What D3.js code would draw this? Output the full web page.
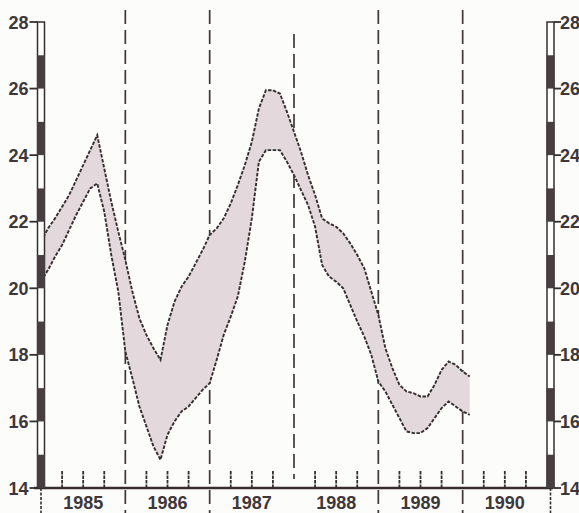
<!DOCTYPE html>
<html><head><meta charset="utf-8">
<script src="https://cdn.jsdelivr.net/npm/d3@7"></script>
<style>
html,body{margin:0;padding:0;background:#fcfcfb;}
svg{display:block;}
text{font-family:"Liberation Sans Narrow","Liberation Sans",sans-serif;font-weight:bold;fill:#3e3739;}
</style></head>
<body>
<script>
// ---- data (monthly, Jan 1985 .. Feb 1990) ----
const startYear = 1985;
const years = ["1985","1986","1987","1988","1989","1990"];
const yTicks = [14,16,18,20,22,24,26,28];
const upper = [21.4,21.8,22.1,22.45,22.8,23.25,23.7,24.15,24.6,23.6,22.6,21.7,
               20.85,19.9,19.1,18.6,18.2,17.85,18.9,19.6,20.05,20.35,20.75,21.15,
               21.6,21.8,22.1,22.55,23.1,23.7,24.4,25.4,25.95,25.95,25.85,25.3,
               24.7,24.1,23.4,22.8,22.1,21.95,21.85,21.65,21.35,21.0,20.6,19.9,
               19.2,18.2,17.6,17.1,16.9,16.85,16.75,16.75,17.1,17.55,17.8,17.7,
               17.5,17.35];
const lower = [20.2,20.55,20.95,21.3,21.75,22.2,22.6,23.0,23.15,22.3,21.0,19.9,
               18.1,17.3,16.45,15.85,15.25,14.85,15.6,16.0,16.3,16.45,16.7,16.95,
               17.15,17.85,18.6,19.15,19.75,20.8,22.1,23.8,24.15,24.15,24.15,23.8,
               23.4,22.95,22.5,21.85,20.7,20.35,20.2,20.0,19.5,19.0,18.55,18.0,
               17.2,16.9,16.5,16.1,15.7,15.65,15.65,15.8,16.1,16.4,16.6,16.45,
               16.3,16.2];

const W = 579, H = 513;
const dark = "#352e30";
const svg = d3.select("body").append("svg").attr("width", W).attr("height", H);

const x = d3.scaleLinear().domain([1985, 1991]).range([41, 547]);
const y = d3.scaleLinear().domain([14, 28]).range([488, 22]);
const xm = (d, i) => x(startYear + i / 12);

// year boundary dashed lines
const bounds = [1986, 1987, 1988, 1989, 1990];
svg.selectAll("line.vb").data(bounds).join("line")
  .attr("x1", d => x(d)).attr("x2", d => x(d))
  .attr("y1", d => d === 1988 ? 34 : 10)
  .attr("y2", d => d === 1988 ? 479 : 513)
  .attr("stroke", "#3f3739").attr("stroke-width", 1.7)
  .attr("stroke-dasharray", "14,6");

// band
const rows = upper.map((u, i) => ({u, l: lower[i]}));
svg.append("path").datum(rows)
  .attr("fill", "#e3d8db")
  .attr("d", d3.area().x(xm).y0(d => y(d.l)).y1(d => y(d.u)));
[upper, lower].forEach(s => {
  svg.append("path").datum(s)
    .attr("fill", "none").attr("stroke", dark).attr("stroke-width", 1.9)
    .attr("stroke-dasharray", "3.5,1.5")
    .attr("d", d3.line().x(xm).y(d => y(d)));
});

// x axis baseline
svg.append("line").attr("x1", 34).attr("x2", 553).attr("y1", y(14)).attr("y2", y(14))
  .attr("stroke", dark).attr("stroke-width", 2.6);

// quarter ticks
const quarters = [];
years.forEach(yr => [0.25, 0.5, 0.75].forEach(q => quarters.push(+yr + q)));
svg.selectAll("line.q").data(quarters).join("line")
  .attr("x1", d => x(d)).attr("x2", d => x(d))
  .attr("y1", y(14)).attr("y2", y(14) - 18)
  .attr("stroke", dark).attr("stroke-width", 1.8).attr("stroke-dasharray", "3.5,1");

// year labels
svg.selectAll("text.yr").data(years).join("text")
  .attr("x", d => x(+d + 0.5)).attr("y", 509)
  .attr("text-anchor", "middle").attr("font-size", 18)
  .text(d => d);

// vertical axis bars
function axisBar(cx, side) {
  const g = svg.append("g");
  const bw = 7;
  g.append("line").attr("x1", cx).attr("x2", cx).attr("y1", y(14)).attr("y2", 513)
    .attr("stroke", dark).attr("stroke-width", 1.6).attr("stroke-dasharray", "3,1.5");
  g.append("rect").attr("x", cx - bw / 2).attr("y", y(28)).attr("width", bw)
    .attr("height", y(14) - y(28)).attr("fill", "#fcfcfb")
    .attr("stroke", dark).attr("stroke-width", 1.5);
  g.selectAll("rect.seg").data(yTicks.filter(v => v < 28)).join("rect")
    .attr("x", cx - bw / 2 - 0.5).attr("y", v => y(v + 1)).attr("width", bw + 1)
    .attr("height", v => y(v) - y(v + 1)).attr("fill", "#463e40");
  const edge = cx + (side === "left" ? -bw / 2 : bw / 2);
  const tl = side === "left" ? -8 : 7;
  g.selectAll("line.t").data(yTicks).join("line")
    .attr("x1", edge).attr("x2", edge + tl)
    .attr("y1", v => y(v)).attr("y2", v => y(v))
    .attr("stroke", dark).attr("stroke-width", 1.8);
  g.selectAll("text.yl").data(yTicks).join("text")
    .attr("x", side === "left" ? edge - 9 : edge + 6)
    .attr("y", v => y(v) + 6.5)
    .attr("text-anchor", side === "left" ? "end" : "start")
    .attr("font-size", 18)
    .text(v => v);
}
axisBar(x(1985), "left");
axisBar(x(1991) + 3.5, "right");
</script>
</body></html>
